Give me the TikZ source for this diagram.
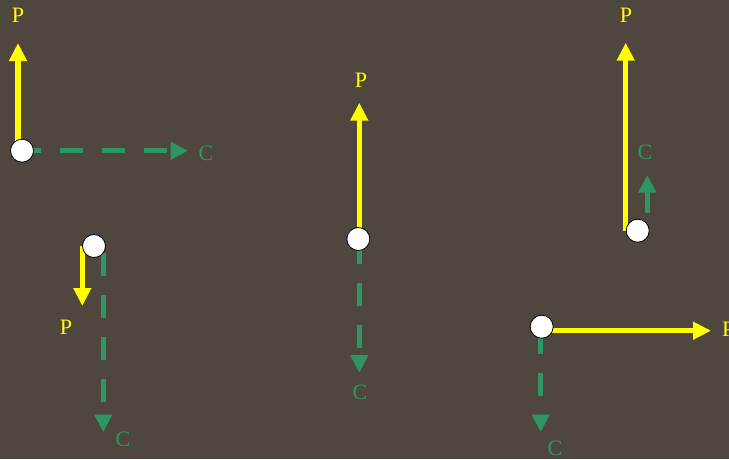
\documentclass[tikz,border=0pt]{standalone}
\usepackage{fontspec}
\setmainfont{Liberation Serif}
\usetikzlibrary{arrows.meta}
\definecolor{bg}{RGB}{79,71,61}
\definecolor{pyel}{RGB}{255,255,0}
\definecolor{cgrn}{RGB}{46,150,100}
\begin{document}
\begin{tikzpicture}[x=1pt,y=-1pt,
  pvec/.style={draw=pyel,line width=5.5pt,-{Triangle[length=18pt,width=17pt]}},
  cvec/.style={draw=cgrn,line width=5.5pt,dash pattern=on 23pt off 19pt,-{Triangle[length=17.5pt,width=17pt]}},
  dot/.style={circle,fill=white,draw=black,line width=0.8pt,minimum size=23pt,inner sep=0pt},
  plab/.style={text=pyel,font=\fontsize{22}{22}\selectfont,inner sep=0pt},
  clab/.style={text=cgrn,font=\fontsize{22}{22}\selectfont,inner sep=0pt}]
\fill[bg] (0,0) rectangle (729,459);
\useasboundingbox (0,0) rectangle (729,459);
% ---------- group 1
\coordinate (p1s) at (18,150.7);
\coordinate (p1e) at (18,43);
\coordinate (c1s) at (22,150.7);
\coordinate (c1e) at (188,150.7);
\draw[pvec] (p1s) -- (p1e);
\draw[cvec,dash phase=4pt] (c1s) -- (c1e);
\node[dot] (o1) at (22,150.7) {};
\node[plab] (lp1) at (18,15) {P};
\node[clab] (lc1) at (206,153) {C};
% ---------- group 2
\coordinate (p2s) at (82.3,246);
\coordinate (p2e) at (82.3,306);
\coordinate (c2s) at (103.3,246);
\coordinate (c2e) at (103.3,432);
\draw[pvec] (p2s) -- (p2e);
\draw[cvec,dash phase=35pt] (c2s) -- (c2e);
\node[dot] (o2) at (94,246) {};
\node[plab] (lp2) at (66,327) {P};
\node[clab] (lc2) at (123,439) {C};
% ---------- group 3
\coordinate (p3s) at (359.3,239);
\coordinate (p3e) at (359.3,102.7);
\coordinate (c3s) at (359.3,239);
\coordinate (c3e) at (359.3,372.7);
\draw[pvec] (p3s) -- (p3e);
\draw[cvec,dash phase=40.3pt] (c3s) -- (c3e);
\node[dot] (o3) at (358.3,239) {};
\node[plab] (lp3) at (361,80) {P};
\node[clab] (lc3) at (360,392) {C};
% ---------- group 4
\coordinate (p4s) at (625.7,230.7);
\coordinate (p4e) at (625.7,42.7);
\coordinate (c4s) at (647.3,230.7);
\coordinate (c4e) at (647.3,175);
\draw[pvec] (p4s) -- (p4e);
\draw[cvec,dash phase=24.6pt] (c4s) -- (c4e);
\node[dot] (o4) at (637.7,230.7) {};
\node[plab] (lp4) at (626,15) {P};
\node[clab] (lc4) at (645,152) {C};
% ---------- group 5
\coordinate (p5s) at (541.7,330.7);
\coordinate (p5e) at (711,330.7);
\coordinate (c5s) at (540.7,326.7);
\coordinate (c5e) at (540.7,432);
\draw[pvec] (p5s) -- (p5e);
\draw[cvec,dash phase=37.7pt] (c5s) -- (c5e);
\node[dot] (o5) at (541.7,326.7) {};
\node[plab,anchor=west] (lp5) at (722,329) {P};
\node[clab] (lc5) at (555,448) {C};
\end{tikzpicture}
\end{document}
